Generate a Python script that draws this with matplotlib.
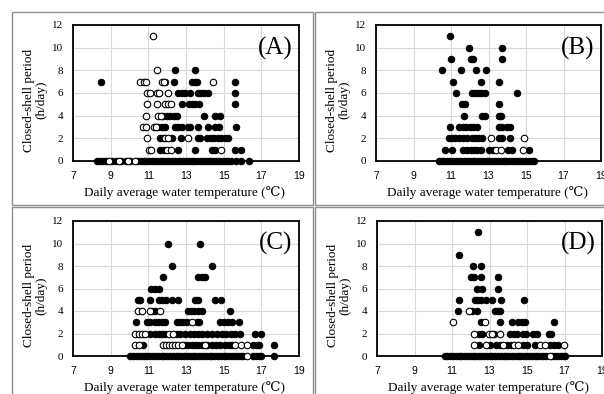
import matplotlib
matplotlib.use("Agg")
import matplotlib.pyplot as plt
from matplotlib.patches import Rectangle

# x ticks / y ticks shared by all four panels
x_ticks = [7, 9, 11, 13, 15, 17, 19]
y_ticks = [0, 2, 4, 6, 8, 10, 12]
panel_names = ["(A)", "(B)", "(C)", "(D)"]
x_label = "Daily average water temperature (\u2103)"
y_label = "Closed-shell period\n(h/day)"

# data: {closed hours: [water temperatures]}
a_filled = {
    8: [12.43, 13.46],
    7: [8.5, 11.9, 12.38, 13.3, 13.5, 13.6, 15.6],
    6: [12.6, 12.78, 12.96, 13.23, 13.63, 13.77, 13.98, 14.16, 15.6],
    5: [12.78, 13.14, 13.3, 13.5, 13.67, 15.6],
    4: [11.8, 11.99, 12.17, 12.34, 12.52, 13.98, 14.55, 14.8],
    3: [11.5, 11.73, 11.9, 12.4, 12.6, 12.8, 13.1, 13.23, 13.63, 14.16, 14.55, 14.73, 15.64],
    2: [11.64, 11.76, 12.26, 12.75, 13.63, 13.76, 14.1, 14.34, 14.51, 14.69, 14.87, 15.08, 15.25],
    1: [11.64, 11.82, 12.6, 13.46, 14.37, 14.55, 15.6, 15.92],
    0: [8.3, 8.45, 8.6, 8.75, 9.05, 9.3, 9.55, 9.8, 10.05, 10.45, 10.6, 10.75,
        10.9, 11.05, 11.2, 11.35, 11.5, 11.65, 11.8, 11.95, 12.1, 12.25, 12.4, 12.55, 12.7,
        12.85, 13.0, 13.15, 13.3, 13.45, 13.6, 13.75, 13.9, 14.05, 14.2, 14.35, 14.5, 14.65,
        14.8, 14.95, 15.1, 15.25, 15.4, 15.65, 15.9, 16.35],
}
a_open = {
    11: [11.23],
    8: [11.46],
    7: [10.58, 10.76, 10.88, 11.73, 11.85, 14.46],
    6: [10.93, 11.1, 11.46, 11.55, 12.04],
    5: [10.93, 11.46, 11.9, 12.04, 12.22],
    4: [10.85, 11.5, 11.65],
    3: [10.7, 10.85, 11.29, 11.41],
    2: [10.93, 11.9, 12.04, 13.1],
    1: [11.02, 11.16, 12.0, 12.22, 14.87],
    0: [8.9, 9.42, 9.92, 10.28],
}

b_filled = {
    11: [10.97],
    10: [11.97, 13.7],
    9: [11.0, 12.04, 12.18, 13.7],
    8: [10.53, 11.54, 12.32, 12.88],
    7: [11.09, 12.62, 13.57],
    6: [11.28, 12.1, 12.27, 12.44, 12.62, 12.79, 14.53],
    5: [11.57, 11.75, 13.57],
    4: [11.7, 12.67, 12.79, 13.54, 13.66],
    3: [10.93, 11.45, 11.63, 11.8, 12.0, 12.18, 12.36, 13.54, 13.71, 14.0, 14.15],
    2: [10.88, 11.05, 11.23, 11.45, 11.66, 11.87, 12.1, 12.27, 12.44, 12.67, 13.54, 13.71, 14.15],
    1: [10.7, 11.05, 11.66, 11.87, 12.04, 12.22, 12.39, 12.62, 13.05, 13.23, 14.06, 14.27, 15.14],
    0: [10.35, 10.5, 10.65, 10.8, 10.95, 11.1, 11.25, 11.4, 11.55, 11.7, 11.85, 12.0, 12.15,
        12.3, 12.45, 12.6, 12.75, 12.9, 13.05, 13.2, 13.35, 13.5, 13.65, 13.8, 13.95, 14.1,
        14.25, 14.4, 14.55, 14.7, 14.85, 15.0, 15.15, 15.3, 15.4],
}
b_open = {
    2: [13.14, 14.9],
    1: [13.4, 13.66, 14.84],
}

c_filled = {
    10: [12.04, 13.74],
    8: [12.25, 14.36],
    7: [11.77, 13.62, 13.83, 14.0],
    6: [11.15, 11.37, 11.54],
    5: [10.45, 10.57, 11.1, 11.54, 11.75, 11.93, 12.28, 12.6, 13.48, 13.65, 14.54, 14.85],
    4: [11.19, 11.33, 13.09, 13.27, 13.44, 13.62, 13.83, 15.33],
    3: [10.35, 10.93, 11.1, 11.33, 11.5, 11.72, 11.89, 12.5, 12.69, 12.86, 13.04,
        13.57, 13.7, 14.8, 15.03, 15.24, 15.42, 15.8],
    2: [11.1, 11.37, 11.54, 11.72, 11.9, 12.5, 12.7, 12.95, 13.21, 13.45, 13.62, 13.83, 14.1,
        14.36, 14.62, 14.89, 15.15, 15.38, 15.6, 15.85, 16.67, 17.0],
    1: [10.7, 12.9, 13.13, 13.3, 13.48, 13.65, 13.85, 14.1, 14.36, 14.6, 14.8, 15.06, 15.27,
        15.45, 16.55, 16.75, 16.9, 17.67],
    0: [10.05, 10.2, 10.35, 10.5, 10.65, 10.8, 10.95, 11.1, 11.25, 11.4, 11.55, 11.7, 11.85,
        12.0, 12.15, 12.3, 12.45, 12.6, 12.75, 12.9, 13.05, 13.2, 13.35, 13.5, 13.65, 13.8,
        13.95, 14.1, 14.25, 14.4, 14.55, 14.7, 14.85, 15.0, 15.15, 15.3, 15.45, 15.6, 15.75,
        15.9, 16.05, 16.55, 16.7, 16.85, 17.0, 17.67],
}
c_open = {
    4: [10.45, 10.66, 11.1, 11.6],
    3: [13.3],
    2: [10.31, 10.49, 10.66, 10.84, 12.1, 12.3],
    1: [10.3, 10.5, 11.78, 11.95, 12.1, 12.25, 12.42, 12.6, 12.78, 14.0, 15.6, 15.94, 16.26],
    0: [16.25],
}

d_filled = {
    11: [12.39],
    9: [11.39],
    8: [12.14, 12.53],
    7: [12.0, 12.18, 12.56, 13.44],
    6: [12.32, 12.61, 13.44],
    5: [11.39, 12.21, 12.39, 12.56, 12.79, 13.14, 13.61, 14.84],
    4: [11.3, 12.04, 12.35, 13.28, 13.44, 13.58],
    3: [12.53, 13.54, 14.19, 14.54, 14.72, 14.89, 16.44],
    2: [12.44, 12.61, 13.26, 14.07, 14.32, 14.49, 14.77, 14.95, 15.33, 15.51, 16.18, 16.3],
    1: [12.44, 13.05, 13.32, 13.54, 13.93, 14.14, 14.77, 14.98, 15.42, 16.21, 16.42, 16.65],
    0: [10.6, 10.75, 10.9, 11.05, 11.2, 11.35, 11.5, 11.65, 11.8, 11.95, 12.1, 12.25, 12.4,
        12.55, 12.7, 12.85, 13.0, 13.15, 13.3, 13.45, 13.6, 13.75, 13.9, 14.05, 14.2, 14.35,
        14.5, 14.65, 14.8, 14.95, 15.1, 15.25, 15.4, 15.55, 15.7, 15.85, 16.0, 16.35, 16.5,
        16.65, 16.8, 16.95, 17.0],
}
d_open = {
    4: [11.88],
    3: [11.07, 12.75],
    2: [12.18, 12.96, 13.14, 13.54],
    1: [12.18, 12.79, 13.72, 14.32, 14.54, 15.68, 15.95, 16.95],
    0: [16.2],
}

W, H = 604, 394
fig = plt.figure(figsize=(W / 100, H / 100), dpi=100)
fig.patch.set_facecolor("white")

serif = ["Liberation Serif", "DejaVu Serif"]

# outer chart frames (pixels: left, top, right, bottom)
frames = [(12, 12, 313, 205), (315, 12, 620, 205), (12, 207, 313, 410), (315, 207, 620, 410)]
for l, t, r, b in frames:
    fig.add_artist(Rectangle((l / W, 1 - b / H), (r - l) / W, (b - t) / H,
                             transform=fig.transFigure, fill=False,
                             ec="#8f8f8f", lw=1.0))

# plot areas in pixels
plot_boxes = [(73, 25, 299, 161), (376, 25, 601, 161), (73, 221, 299, 356), (377, 221, 602, 356)]
panels = [(a_filled, a_open), (b_filled, b_open), (c_filled, c_open), (d_filled, d_open)]


def flatten(d):
    xs, ys = [], []
    for yv, xl in d.items():
        xs += xl
        ys += [yv] * len(xl)
    return xs, ys


for i, (l, t, r, b) in enumerate(plot_boxes):
    ax = fig.add_axes([l / W, 1 - b / H, (r - l) / W, (b - t) / H])
    ax.set_xlim(7, 19)
    ax.set_ylim(0, 12)
    ax.set_xticks(x_ticks)
    ax.set_yticks(y_ticks)
    ax.grid(True, color="#d9d9d9", lw=0.8)
    ax.set_axisbelow(True)
    for s in ax.spines.values():
        s.set_color("black")
        s.set_linewidth(1.3)
    ax.tick_params(length=0, pad=7)
    for lab in ax.get_xticklabels():
        lab.set_fontfamily("Liberation Sans")
        lab.set_fontsize(7.5)
    for lab in ax.get_yticklabels():
        lab.set_fontfamily(serif)
        lab.set_fontsize(8)

    filled, hollow = panels[i]
    fx, fy = flatten(filled)
    ox, oy = flatten(hollow)
    ax.scatter(fx, fy, s=22, c="black", edgecolors="black", linewidths=0.7,
               clip_on=False, zorder=4)
    ax.scatter(ox, oy, s=22, c="white", edgecolors="black", linewidths=0.8,
               clip_on=False, zorder=5)

    ax.text(0.97, 0.83, panel_names[i], transform=ax.transAxes, ha="right", va="center",
            fontsize=18, family=serif)

    fig.text((l - 38) / W, 1 - ((t + b) / 2 + 7) / H, y_label, rotation=90,
             ha="center", va="center", ma="center", fontsize=9.5, family=serif,
             linespacing=1.05)
    fig.text(((l + r) / 2 - 1) / W, 1 - (b + 32) / H, x_label, ha="center", va="center",
             fontsize=9.5, family=serif)

fig.savefig("out.png", dpi=100, facecolor="white")
